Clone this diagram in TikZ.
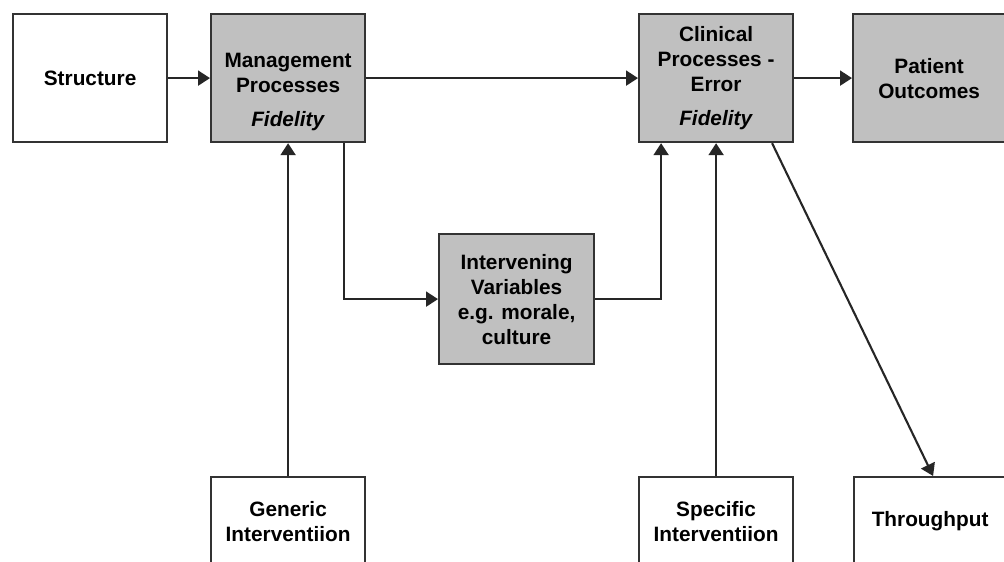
\documentclass[tikz,border=0pt]{standalone}
\usepackage{fontspec}
\setmainfont{Liberation Sans}
\usetikzlibrary{arrows.meta}
\definecolor{boxgray}{HTML}{C0C0C0}
\definecolor{edge}{HTML}{333333}
\begin{document}
\begin{tikzpicture}[x=1pt,y=-1pt,
  box/.style={draw=edge, line width=2.2pt, minimum width=154pt, minimum height=128pt,
    inner sep=0pt, anchor=north west, align=center,
    font=\fontsize{20.8}{25}\selectfont\bfseries},
  gbox/.style={box, fill=boxgray},
  lowbox/.style={box, minimum height=88pt},
  arr/.style={draw=black!85, line width=2.1pt, -{Triangle[length=12pt,width=15pt]}}]
\useasboundingbox (0,0) rectangle (1004,562);
\clip (0,0) rectangle (1004,562);
\fill[white] (0,0) rectangle (1004,562);
\node[box]  (struct) at (12,13)  {Structure};
\node[gbox] (mgmt)   at (210,13) {\strut\\Management\\Processes\\[9pt]\textit{Fidelity}};
\node[gbox] (clin)   at (638,13) {Clinical\\Processes -\\Error\\[9pt]\textit{Fidelity}};
\node[gbox, minimum width=152pt] (pat) at (852,13) {Patient\\Outcomes};
\node[gbox, minimum width=155pt, minimum height=130pt] (interv) at (438,233) {Intervening\\Variables\\e.g. morale,\\culture};
\node[lowbox] (gen)  at (210,476) {Generic\\Interventiion};
\node[lowbox] (spec) at (638,476) {Specific\\Interventiion};
\node[lowbox, minimum width=152pt] (thru) at (853,476) {Throughput};
\draw[arr] (struct) -- (mgmt);
\draw[arr] (mgmt) -- (clin);
\draw[arr] (clin) -- (pat);
\draw[arr] ([xshift=56pt]mgmt.south) |- (interv.west);
\draw[arr] (interv.east) -| ([xshift=-55pt]clin.south);
\draw[arr] (gen.north) -- (mgmt.south);
\draw[arr] (spec.north) -- (clin.south);
\draw[arr] ([xshift=56pt]clin.south) -- ([xshift=3pt]thru.north);
\end{tikzpicture}
\end{document}
